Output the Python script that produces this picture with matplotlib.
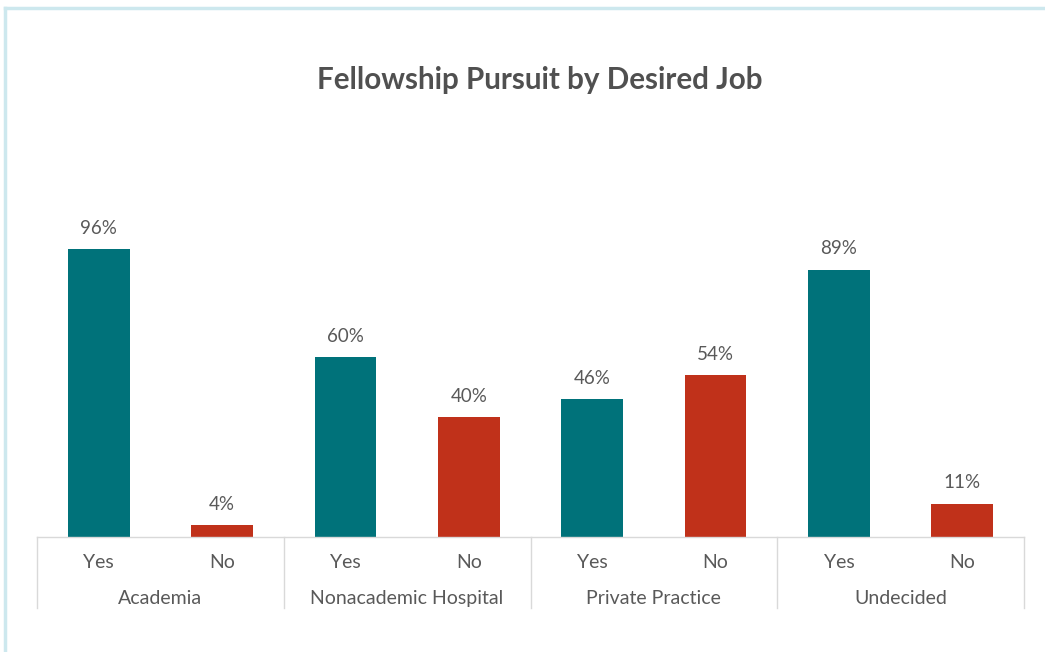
import matplotlib.pyplot as plt
from matplotlib.lines import Line2D

groups = ["Academia", "Nonacademic Hospital", "Private Practice", "Undecided"]
answers = ["Yes", "No"]
yes_pct = [96, 60, 46, 89]
no_pct = [4, 40, 54, 11]

teal = "#00727A"
red = "#C0311A"
text_col = "#595959"
grid_col = "#D9D9D9"

plt.rcParams['font.family'] = ['Lato', 'DejaVu Sans']

fig = plt.figure(figsize=(10.45, 6.52), dpi=100)
ax = fig.add_axes([37 / 1045, 115 / 652, 987 / 1045, 300 / 652])

# interleave yes/no per group
values = []
colors = []
labels = []
for y, n in zip(yes_pct, no_pct):
    values += [y, n]
    colors += [teal, red]
    labels += answers
xs = list(range(len(values)))

bars = ax.bar(xs, values, width=0.5, color=colors)
for x, v in zip(xs, values):
    ax.annotate(f"{v}%", (x, v), xytext=(0, 9), textcoords="offset points",
                ha="center", va="bottom", fontsize=13.5, color=text_col)

ax.set_xlim(-0.5, len(values) - 0.5)
ax.set_ylim(0, 100)
ax.set_yticks([])
for s in ["top", "left", "right"]:
    ax.spines[s].set_visible(False)
ax.spines["bottom"].set_color(grid_col)
ax.spines["bottom"].set_linewidth(1)

ax.set_xticks(xs)
ax.set_xticklabels(labels, fontsize=14, color=text_col)
ax.tick_params(axis="x", length=0, pad=12.5)

trans = ax.get_xaxis_transform()
for i, g in enumerate(groups):
    ax.text(2 * i + 0.5, -0.205, g, transform=trans, ha="center", va="center",
            fontsize=14, color=text_col)
for b in range(len(groups) + 1):
    ax.plot([2 * b - 0.5, 2 * b - 0.5], [0, -0.237], transform=trans,
            color=grid_col, lw=1, clip_on=False)

fig.text(540 / 1045, 1 - 80 / 652, "Fellowship Pursuit by Desired Job",
         ha="center", va="center", fontsize=21.3, fontweight="bold", color="#505050")

# light frame lines at top and left
border = "#CDE8EE"
fig.add_artist(Line2D([4.5 / 1045, 4.5 / 1045], [0, 1 - 8 / 652], color=border, lw=2.5))
fig.add_artist(Line2D([4.5 / 1045, 1], [1 - 8 / 652, 1 - 8 / 652], color=border, lw=2.5))

fig.savefig("out.png", dpi=100)
